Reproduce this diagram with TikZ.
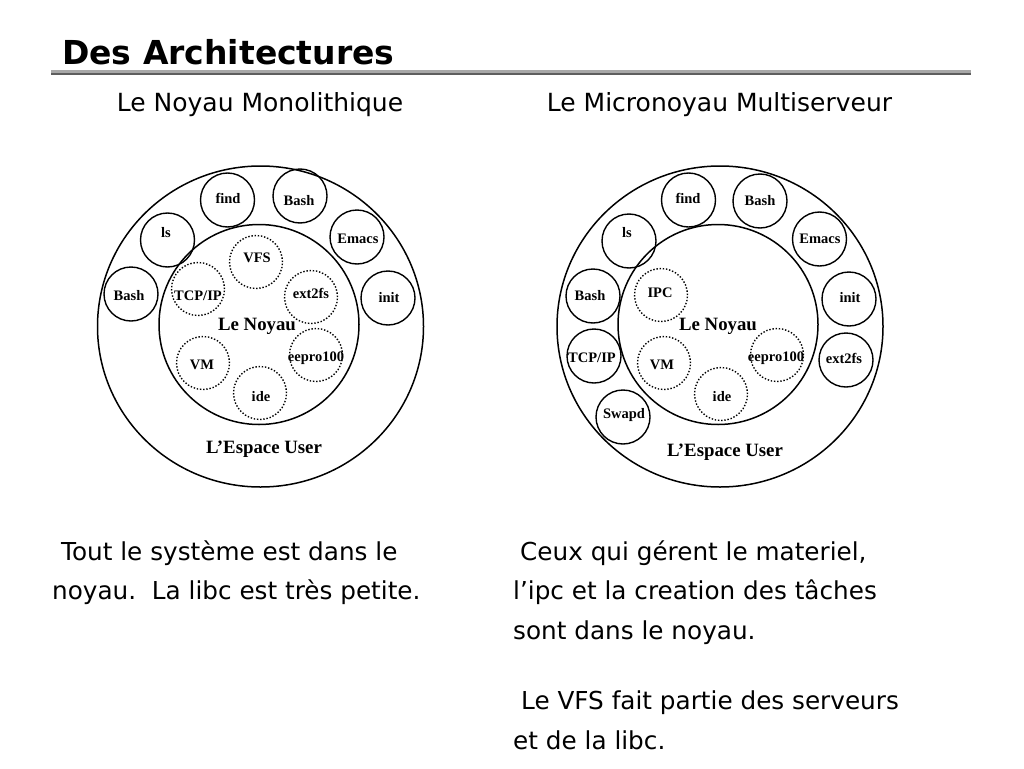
\documentclass[tikz,border=0pt]{standalone}
\usepackage{fontspec}
\setmainfont{Liberation Serif}
\newfontfamily\slidefont{DejaVu Sans}
\usetikzlibrary{shapes.geometric}
\definecolor{rulelight}{HTML}{A8A8A8}
\definecolor{ruledark}{HTML}{5E5E5E}
\begin{document}
\begin{tikzpicture}[x=1pt,y=-1pt,
  usercirc/.style={circle,draw,line width=1.4pt,minimum size=54pt,inner sep=0pt},
  kerncirc/.style={circle,draw,line width=1.4pt,dash pattern=on 1.4pt off 1.8pt,minimum size=53pt,inner sep=0pt},
  ringbig/.style={ellipse,draw,line width=1.5pt,minimum width=326pt,minimum height=321pt,inner sep=0pt},
  kernbig/.style={circle,draw,line width=1.5pt,minimum size=200pt,inner sep=0pt},
  lbl/.style={font=\bfseries\fontsize{14.5}{16}\selectfont,inner sep=0pt},
  biglbl/.style={font=\bfseries\fontsize{18.8}{21}\selectfont,inner sep=0pt},
  body/.style={font=\slidefont\fontsize{24.7}{30}\selectfont,anchor=base west,inner sep=0pt},
  sub/.style={font=\slidefont\fontsize{25}{30}\selectfont,anchor=base,inner sep=0pt},
  titlestyle/.style={font=\slidefont\bfseries\fontsize{33}{38}\selectfont,anchor=base west,inner sep=0pt}]
\useasboundingbox (0,0) rectangle (1024,768);
\fill[white] (0,0) rectangle (1024,768);

% title
\node[titlestyle] (title) at (62,64) {Des Architectures};
\fill[rulelight] (51,70) rectangle (971,72.6);
\fill[ruledark] (51,72.6) rectangle (971,75.2);

\node[sub] (subL) at (260,111) {Le Noyau Monolithique};
\node[sub] (subR) at (719.5,111) {Le Micronoyau Multiserveur};

% ===== left diagram =====
\node[ringbig] (userL) at (260.5,326.5) {};
\node[kernbig] (kernL) at (259,324.5) {};

\node[usercirc] (cfindL) at (227.5,200) {};
\node[usercirc] (cbashtL) at (300,196) {};
\node[usercirc] (clsL) at (167.5,240) {};
\node[usercirc] (cemacsL) at (357,237) {};
\node[usercirc] (cbashL) at (131,294) {};
\node[usercirc] (cinitL) at (388,298) {};

\node[lbl] (tfindL) at (228,198) {find};
\node[lbl] (tbashtL) at (299,201) {Bash};
\node[lbl] (tlsL) at (166,233) {ls};
\node[lbl] (temacsL) at (358,239) {Emacs};
\node[lbl] (tbashL) at (129,296) {Bash};
\node[lbl] (tinitL) at (389,298) {init};

\node[kerncirc] (cvfsL) at (256,262) {};
\node[kerncirc] (ctcpL) at (198,289) {};
\node[kerncirc] (cextL) at (311,297) {};
\node[kerncirc] (cvmL) at (203,363) {};
\node[kerncirc] (ceepL) at (316,355) {};
\node[kerncirc] (cideL) at (260,393) {};

\node[lbl] (tvfsL) at (257,258) {VFS};
\node[lbl] (ttcpL) at (198,296) {TCP/IP};
\node[lbl] (textL) at (311,293) {ext2fs};
\node[lbl] (tvmL) at (202,365) {VM};
\node[lbl] (teepL) at (316,358) {eepro100};
\node[lbl] (tideL) at (261,397) {ide};

\node[biglbl] (noyauL) at (257,326) {Le Noyau};
\node[biglbl] (espL) at (264,449) {L’Espace User};

% ===== right diagram =====
\node[ringbig] (userR) at (720,326.5) {};
\node[kernbig] (kernR) at (718,324.5) {};

\node[usercirc] (cfindR) at (688.5,200) {};
\node[usercirc] (cbashtR) at (760,201) {};
\node[usercirc] (clsR) at (629,241) {};
\node[usercirc] (cemacsR) at (819.5,239) {};
\node[usercirc] (cbashR) at (593,296) {};
\node[usercirc] (cinitR) at (849,299) {};
\node[usercirc] (ctcpR) at (594,356) {};
\node[usercirc] (cextR) at (846,360) {};
\node[usercirc] (cswapR) at (623,417) {};

\node[lbl] (tfindR) at (688,198) {find};
\node[lbl] (tbashtR) at (760,201) {Bash};
\node[lbl] (tlsR) at (627,233) {ls};
\node[lbl] (temacsR) at (820,239) {Emacs};
\node[lbl] (tbashR) at (590,296) {Bash};
\node[lbl] (tinitR) at (850,298) {init};
\node[lbl] (ttcpR) at (592,358) {TCP/IP};
\node[lbl] (textR) at (844,358) {ext2fs};
\node[lbl] (tswapR) at (624,415) {Swapd};

\node[kerncirc] (cipcR) at (661,295) {};
\node[kerncirc] (cvmR) at (664,363) {};
\node[kerncirc] (ceepR) at (777,355) {};
\node[kerncirc] (cideR) at (721,394) {};

\node[lbl] (tipcR) at (660,293) {IPC};
\node[lbl] (tvmR) at (662,365) {VM};
\node[lbl] (teepR) at (776,358) {eepro100};
\node[lbl] (tideR) at (722,397) {ide};

\node[biglbl] (noyauR) at (718,326) {Le Noyau};
\node[biglbl] (espR) at (725,452) {L’Espace User};

% ===== body text =====
\node[body] (bl1) at (61,560) {Tout le système est dans le};
\node[body] (bl2) at (52,599) {noyau.\ \ La libc est très petite.};

\node[body] (br1) at (520,560) {Ceux qui gérent le materiel,};
\node[body] (br2) at (513,599) {l’ipc et la creation des tâches};
\node[body] (br3) at (513,639) {sont dans le noyau.};
\node[body] (br4) at (521,709) {Le VFS fait partie des serveurs};
\node[body] (br5) at (513,749) {et de la libc.};
\end{tikzpicture}
\end{document}
